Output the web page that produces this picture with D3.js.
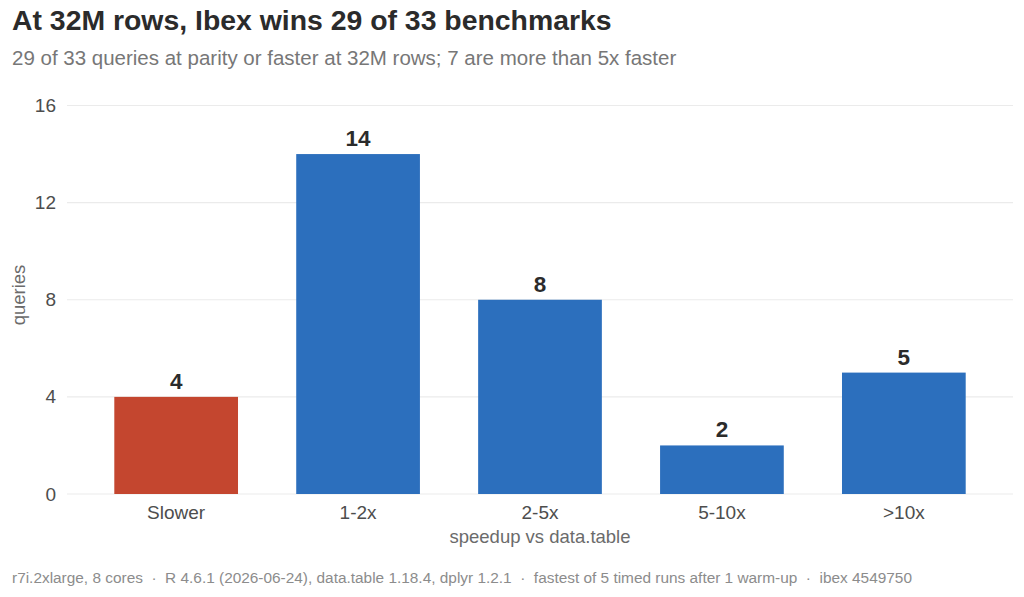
<!DOCTYPE html>
<html>
<head>
<meta charset="utf-8">
<script src="https://cdn.jsdelivr.net/npm/d3@7"></script>
<style>
  body { margin: 0; background: #fff; }
  text { font-family: "Liberation Sans", Arial, sans-serif; }
</style>
</head>
<body>
<script>
// speedup buckets vs data.table, 32M rows
var categories = ["Slower", "1-2x", "2-5x", "5-10x", ">10x"];
var counts = [4, 14, 8, 2, 5];
var yTicks = [0, 4, 8, 12, 16];

var W = 1024, H = 597;
var margin = {top: 105.5, right: 11, bottom: 103, left: 67};
var width = W - margin.left - margin.right;
var height = H - margin.top - margin.bottom;

var svg = d3.select("body").append("svg")
    .attr("width", W)
    .attr("height", H);

svg.append("text")
    .attr("x", 12).attr("y", 30)
    .attr("font-size", 28.4).attr("font-weight", "bold")
    .attr("fill", "#2b2b2b")
    .text("At 32M rows, Ibex wins 29 of 33 benchmarks");

svg.append("text")
    .attr("x", 12).attr("y", 65)
    .attr("font-size", 20.5)
    .attr("fill", "#777777")
    .text("29 of 33 queries at parity or faster at 32M rows; 7 are more than 5x faster");

var g = svg.append("g")
    .attr("transform", "translate(" + margin.left + "," + margin.top + ")");

var x = d3.scaleBand()
    .domain(categories)
    .range([0, width])
    .paddingInner(0.32)
    .paddingOuter(0.26);

var y = d3.scaleLinear()
    .domain([0, 16])
    .range([height, 0]);

// grid
g.append("g").selectAll("line")
    .data(yTicks)
    .enter().append("line")
    .attr("x1", 0).attr("x2", width)
    .attr("y1", function(d) { return y(d); })
    .attr("y2", function(d) { return y(d); })
    .attr("stroke", "#ebebeb")
    .attr("stroke-width", 1.2);

// y axis
var yAxis = g.append("g")
    .call(d3.axisLeft(y).tickValues(yTicks).tickSize(0).tickPadding(11));
yAxis.select(".domain").remove();
yAxis.selectAll("text")
    .attr("font-size", 19)
    .attr("fill", "#4d4d4d")
    .style("font-family", "Liberation Sans, Arial, sans-serif");

// x axis
var xAxis = g.append("g")
    .attr("transform", "translate(0," + height + ")")
    .call(d3.axisBottom(x).tickSize(0).tickPadding(12));
xAxis.select(".domain").remove();
xAxis.selectAll("text")
    .attr("font-size", 19)
    .attr("fill", "#4d4d4d")
    .style("font-family", "Liberation Sans, Arial, sans-serif");

// bars
g.selectAll("rect.bar")
    .data(counts)
    .enter().append("rect")
    .attr("class", "bar")
    .attr("x", function(d, i) { return x(categories[i]); })
    .attr("y", function(d) { return y(d); })
    .attr("width", x.bandwidth())
    .attr("height", function(d) { return height - y(d); })
    .attr("fill", function(d, i) { return i == 0 ? "#c4462f" : "#2c6fbd"; });

// value labels
g.selectAll("text.val")
    .data(counts)
    .enter().append("text")
    .attr("class", "val")
    .attr("x", function(d, i) { return x(categories[i]) + x.bandwidth() / 2; })
    .attr("y", function(d) { return y(d) - 8; })
    .attr("text-anchor", "middle")
    .attr("font-size", 22.5).attr("font-weight", "bold")
    .attr("fill", "#2b2b2b")
    .text(function(d) { return d; });

// axis titles
svg.append("text")
    .attr("x", margin.left + width / 2).attr("y", 543)
    .attr("text-anchor", "middle")
    .attr("font-size", 18.5)
    .attr("fill", "#6b6b6b")
    .text("speedup vs data.table");

svg.append("text")
    .attr("transform", "translate(25,295) rotate(-90)")
    .attr("text-anchor", "middle")
    .attr("font-size", 18.5)
    .attr("fill", "#6b6b6b")
    .text("queries");

svg.append("text")
    .attr("x", 12).attr("y", 583)
    .attr("font-size", 15.4)
    .attr("fill", "#8c8c8c")
    .style("white-space", "pre")
    .text("r7i.2xlarge, 8 cores  \u00b7  R 4.6.1 (2026-06-24), data.table 1.18.4, dplyr 1.2.1  \u00b7  fastest of 5 timed runs after 1 warm-up  \u00b7  ibex 4549750");
</script>
</body>
</html>
